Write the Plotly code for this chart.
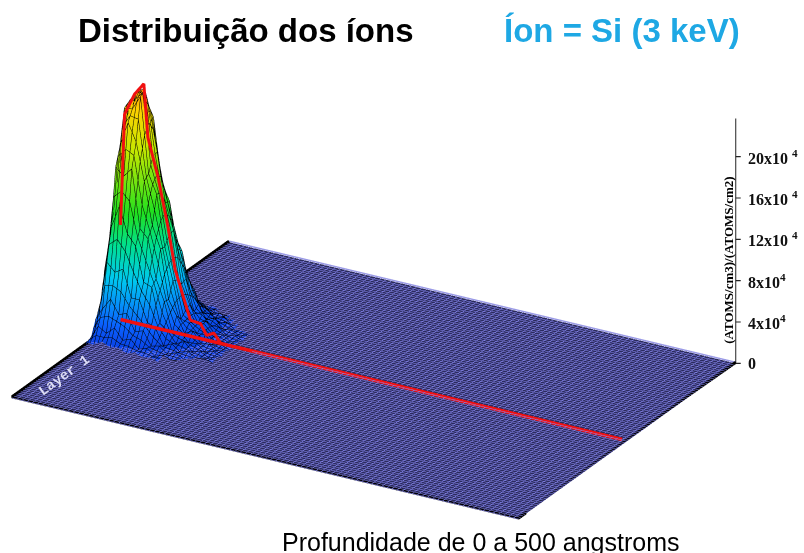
import numpy as np
import plotly.graph_objects as go

# Depth (angstrom) and lateral position of the implanted-ion mesh
depth = [0, 1, 8, 16, 24, 32, 40, 48, 56, 64, 72, 80, 88, 96, 104, 112]
lateral = [-80, -70, -60, -50, -40, -30, -20, -10, 0, 10, 20, 30, 40, 50, 60, 70, 80]
# Concentration in units of 10^4, read by eye; None where the mesh has no cell
N = None
ions = [
 [0.0, 0.3, 0.2, 0.7, 0.3, 0.5, 0.1, 0.4, 0.1, 0.3, 0.0, N, N, N, N, N],
 [0.2, 0.5, 1.7, 1.2, 1.9, 0.9, 1.2, 0.4, 0.7, 0.1, 0.4, 0.1, 0.3, N, N, N],
 [0.1, 1.9, 3.1, 4.2, 2.9, 3.2, 1.6, 1.9, 0.6, 0.8, 0.2, 0.5, 0.1, 0.3, N, N],
 [0.3, 2.8, 7.3, 6.5, 7.0, 4.4, 4.4, 2.4, 2.0, 0.5, 0.9, 0.3, 0.5, 0.1, 0.2, 0.0],
 [0.1, 5.8, 10.4, 12.6, 10.1, 9.1, 5.8, 5.5, 2.2, 1.6, 0.6, 1.0, 0.2, 0.4, 0.0, 0.2],
 [0.3, 6.2, 15.9, 15.2, 16.1, 10.5, 9.7, 6.0, 4.0, 1.2, 1.4, 0.6, 0.7, 0.1, 0.3, 0.0],
 [0.1, 8.5, 17.6, 20.1, 18.4, 14.8, 10.7, 8.6, 3.9, 2.5, 1.0, 1.4, 0.4, 0.5, 0.1, 0.2],
 [0.3, 8.4, 21.0, 21.1, 22.5, 15.2, 13.4, 8.5, 5.4, 1.9, 1.7, 0.9, 0.9, 0.2, 0.3, 0.0],
 [0.2, 9.2, 21.3, 22.6, 22.9, 16.6, 13.3, 9.4, 5.2, 2.4, 1.5, 1.3, 0.7, 0.4, 0.2, 0.1],
 [0.1, 9.3, 19.6, 22.1, 20.9, 16.7, 12.0, 9.5, 4.5, 2.7, 1.1, 1.5, 0.5, 0.5, 0.1, 0.2],
 [0.3, 7.2, 18.4, 18.3, 19.6, 13.5, 11.8, 7.4, 4.7, 1.7, 1.6, 0.8, 0.8, 0.2, 0.3, 0.0],
 [0.1, 6.6, 13.7, 15.9, 14.4, 12.1, 8.3, 6.9, 3.2, 2.1, 0.8, 1.2, 0.3, 0.4, 0.1, 0.2],
 [0.3, 4.0, 10.9, 10.8, 11.7, 8.0, 7.2, 4.2, 3.0, 0.9, 1.1, 0.4, 0.6, 0.1, 0.2, 0.0],
 [0.0, 3.0, 5.7, 7.4, 6.0, 5.6, 3.5, 3.2, 1.2, 1.1, 0.3, 0.7, 0.1, 0.4, N, N],
 [0.2, 1.1, 3.8, 3.1, 4.0, 2.2, 2.6, 1.0, 1.1, 0.2, 0.6, 0.1, 0.4, N, N, N],
 [0.0, 0.8, 1.1, 2.0, 1.2, 1.5, 0.5, 0.9, 0.1, 0.4, 0.0, 0.3, N, N, N, N],
 [0.1, 0.1, 0.6, 0.2, 0.6, 0.1, 0.4, 0.0, 0.3, 0.0, N, N, N, N, N, N],
]
# Central profile (red line)
profile_depth = [0, 4, 14, 23, 27, 37, 47, 54, 69, 79, 85, 92, 99]
profile_value = [9.2, 20.0, 22.2, 23.4, 18.3, 14.7, 10.0, 6.1, 1.6, 1.5, 0.5, 0.9, 0.05]
near_floor_depth = [0, 130]
near_floor_value = [0.05, 0.05]
floor_end_depth = [130, 500]
floor_end_value = [0.05, 0.05]

tick_vals = [0, 4, 8, 12, 16, 20]
tick_text = ["0", "4x10<sup>4</sup>", "8x10<sup>4</sup>", "12x10 <sup>4</sup>", "16x10 <sup>4</sup>", "20x10 <sup>4</sup>"]
axis_top = 23.7

title_left = "Distribuição dos íons"
title_right = "Íon = Si (3 keV)"
caption = "Profundidade de 0 a 500 angstroms"
z_title = "(ATOMS/cm3)/(ATOMS/cm2)"

X_MAX, Y_MAX, Z_MAX = 500, 250, 32
ASPECT = dict(x=2.116, y=1.57, z=1.314)
VIEW = np.array([0.455, -0.788, 0.414])
EYE_NORM = 3.0
CENTER = np.array([0.134, -0.0285, -0.2016])
NUDGE = 0.63  # moves the red profile toward the camera, same screen position
FLOOR_NUDGE = 0.047

floor_x = np.arange(0, 501, 5)
floor_y = np.arange(-250, 251, 5)
floor_z = np.zeros((len(floor_y), len(floor_x)))

rainbow = [[0, "#0a3ce0"], [0.08, "#0a60ff"], [0.25, "#00c8f0"], [0.38, "#00e090"],
           [0.5, "#20e020"], [0.75, "#c8e800"], [0.9, "#ffd000"], [1, "#ff8000"]]
flat = dict(ambient=1, diffuse=0, specular=0, roughness=1, fresnel=0)

def toward_camera(xs, ys, zs, amount):
    s = amount * VIEW
    return (np.array(xs, float) + s[0] * X_MAX / ASPECT["x"],
            np.array(ys, float) + s[1] * 2 * Y_MAX / ASPECT["y"],
            np.array(zs, float) + s[2] * Z_MAX / ASPECT["z"])

fig = go.Figure()
fig.add_trace(go.Surface(
    x=floor_x, y=floor_y, z=floor_z, showscale=False,
    colorscale=[[0, "#2a2a5c"], [1, "#2a2a5c"]], lighting=flat, hoverinfo="skip",
    contours=dict(
        x=dict(show=True, start=0, end=500, size=5, color="#8c8cf8", width=1),
        y=dict(show=True, start=-250, end=250, size=5, color="#8c8cf8", width=1)),
))
fig.add_trace(go.Surface(
    x=depth, y=lateral, z=ions, showscale=False, cmin=0, cmax=axis_top,
    colorscale=rainbow, lighting=flat,
    contours=dict(
        x=dict(show=True, start=0, end=112, size=4, color="black", width=5),
        y=dict(show=True, start=-80, end=80, size=5, color="black", width=3)),
))

rx, ry, rz = toward_camera(profile_depth, np.zeros(len(profile_depth)), profile_value, NUDGE)
fig.add_trace(go.Scatter3d(x=rx, y=ry, z=rz, mode="lines",
                           line=dict(color="#f01010", width=6), showlegend=False))
nx, ny, nz = toward_camera(near_floor_depth, [0, 0], near_floor_value, NUDGE)
fig.add_trace(go.Scatter3d(x=nx, y=ny, z=nz, mode="lines",
                           line=dict(color="#f01010", width=7), showlegend=False))
fx, fy, fz = toward_camera(floor_end_depth, [0, 0], floor_end_value, FLOOR_NUDGE)
fig.add_trace(go.Scatter3d(x=fx, y=fy, z=fz, mode="lines",
                           line=dict(color="#f01010", width=7), showlegend=False))
# floor outline
fig.add_trace(go.Scatter3d(x=[500, 500, 0, 0], y=[250, -250, -250, 250], z=[0.1] * 4, mode="lines",
                           line=dict(color="black", width=6), showlegend=False))
fig.add_trace(go.Scatter3d(x=[0, 500], y=[250, 250], z=[0.1, 0.1], mode="lines",
                           line=dict(color="#9a9ae6", width=3), showlegend=False))
# z axis line
fig.add_trace(go.Scatter3d(x=[500, 500], y=[250, 250], z=[0, axis_top], mode="lines",
                           line=dict(color="#222222", width=2), showlegend=False))

hidden = dict(visible=False)
ann3d = [dict(x=500, y=250, z=v, text=t, showarrow=False, xanchor="left", xshift=10, yshift=0,
              font=dict(family="Liberation Serif", size=16, color="#111111", weight="bold"))
         for v, t in zip(tick_vals, tick_text)]
ann3d += [dict(x=500, y=250, z=v, text=" ", showarrow=True, arrowhead=0, arrowwidth=1.2,
               arrowcolor="#222222", ax=8, ay=0, standoff=0)
          for v in tick_vals]
ann3d.append(dict(x=500, y=250, z=10, text=z_title, textangle=-90, showarrow=False, xshift=-8,
                  font=dict(family="Liberation Serif", size=13, color="black", weight="bold")))
ann3d.append(dict(x=0, y=-165, z=0, text="Layer 1", textangle=-36, showarrow=False, xshift=16, yshift=-4,
                  font=dict(family="Liberation Mono", size=14, color="#dcdcf4", weight="bold")))

eye = CENTER + EYE_NORM * VIEW
fig.update_layout(
    width=804, height=553, margin=dict(l=0, r=0, t=0, b=0), paper_bgcolor="white",
    showlegend=False,
    scene=dict(
        domain=dict(x=[0, 1], y=[0, 1]), bgcolor="white",
        aspectmode="manual", aspectratio=ASPECT,
        camera=dict(projection=dict(type="orthographic"), up=dict(x=0, y=0, z=1),
                    center=dict(x=CENTER[0], y=CENTER[1], z=CENTER[2]),
                    eye=dict(x=eye[0], y=eye[1], z=eye[2])),
        xaxis=dict(range=[0, X_MAX], **hidden),
        yaxis=dict(range=[-Y_MAX, Y_MAX], **hidden),
        zaxis=dict(range=[0, Z_MAX], **hidden),
        annotations=ann3d,
    ),
    annotations=[
        dict(xref="paper", yref="paper", x=246 / 804, y=1 - 31 / 553, text=title_left, showarrow=False,
             xanchor="center", yanchor="middle",
             font=dict(family="Liberation Sans", size=33, color="black", weight="bold")),
        dict(xref="paper", yref="paper", x=622 / 804, y=1 - 31 / 553, text=title_right, showarrow=False,
             xanchor="center", yanchor="middle",
             font=dict(family="Liberation Sans", size=33, color="#1ea8e4", weight="bold")),
        dict(xref="paper", yref="paper", x=481 / 804, y=1 - 542 / 553, text=caption, showarrow=False,
             xanchor="center", yanchor="middle",
             font=dict(family="Liberation Sans", size=25, color="black")),
    ],
)
fig.write_html("out.html", config=dict(displayModeBar=False),
               post_script="document.body.style.margin='0';document.body.style.overflow='hidden';")
